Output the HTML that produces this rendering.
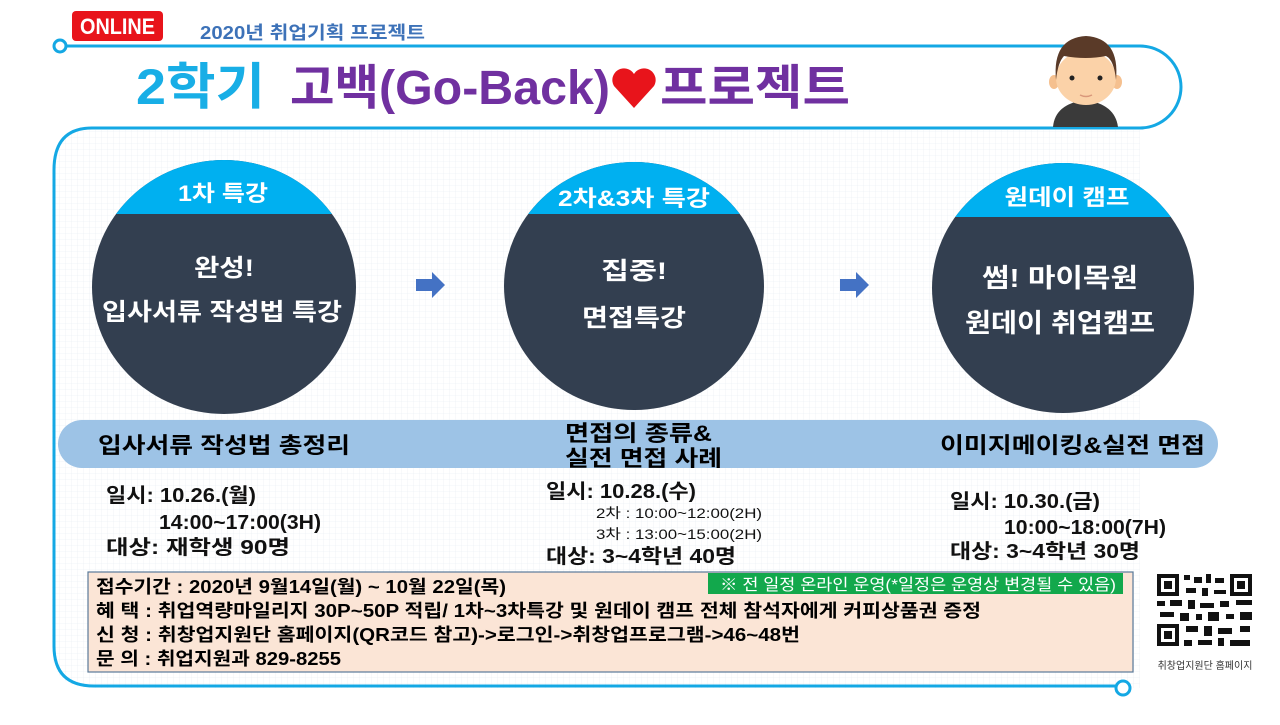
<!DOCTYPE html>
<html><head><meta charset="utf-8"><style>
body{margin:0;width:1280px;height:720px;overflow:hidden;background:#fff;font-family:"Liberation Sans","Noto Sans CJK KR",sans-serif;}
svg text{font-family:"Liberation Sans","Noto Sans CJK KR",sans-serif;}
</style></head><body>
<svg width="1280" height="720" viewBox="0 0 1280 720">
<defs>
<pattern id="g" width="6" height="6" patternUnits="userSpaceOnUse"><path d="M6 0V6H0" fill="none" stroke="#e6ebf2" stroke-width="0.6"/></pattern>
<clipPath id="c1"><ellipse cx="224" cy="287" rx="132" ry="127"/></clipPath>
<clipPath id="c2"><ellipse cx="634" cy="286" rx="130" ry="124"/></clipPath>
<clipPath id="c3"><ellipse cx="1063" cy="288" rx="131" ry="125"/></clipPath>
</defs>
<path d="M52 170 Q52 130 92 130 H1140 V688 H92 Q52 688 52 648Z" fill="url(#g)"/>
<path d="M66 46 H1140 A41 41 0 0 1 1140 128 H92 Q54 128 54 170 V646 Q54 686 94 686 H1116" fill="none" stroke="#14a8e4" stroke-width="3"/>
<circle cx="60" cy="46" r="6" fill="#fff" stroke="#14a8e4" stroke-width="3"/>
<circle cx="1123" cy="688" r="7" fill="#fff" stroke="#14a8e4" stroke-width="3"/>
<rect x="72" y="11" width="91" height="30" rx="4" fill="#e8141b"/>
<text x="80" y="34" font-size="22" font-weight="bold" fill="#fff" textLength="75" lengthAdjust="spacingAndGlyphs">ONLINE</text>
<text x="200" y="39" font-size="18" font-weight="bold" fill="#3d72b8" textLength="225" lengthAdjust="spacingAndGlyphs">2020년 취업기획 프로젝트</text>
<text x="136" y="104" font-size="50" font-weight="bold" fill="#18aee6" textLength="129" lengthAdjust="spacingAndGlyphs">2학기</text>
<text x="290" y="104" font-size="48" font-weight="bold" fill="#7030a0" textLength="320" lengthAdjust="spacingAndGlyphs">고백(Go-Back)</text>
<path d="M634 108 L614 86 A11 11 0 0 1 634 74 A11 11 0 0 1 654 86Z" fill="#e8141b"/>
<text x="660" y="104" font-size="48" font-weight="bold" fill="#7030a0" textLength="190" lengthAdjust="spacingAndGlyphs">프로젝트</text>
<g>
<path d="M1053 127 Q1055 104 1085 100 Q1115 104 1118 127Z" fill="#3a3a3a"/>
<rect x="1078" y="90" width="14" height="14" fill="#f5c08f"/>
<ellipse cx="1054" cy="82" rx="5" ry="7" fill="#f5c08f"/><ellipse cx="1117" cy="82" rx="5" ry="7" fill="#f5c08f"/>
<ellipse cx="1086" cy="78" rx="30" ry="27" fill="#fbd2a8"/>
<path d="M1056 80 Q1052 38 1086 36 Q1120 38 1116 80 Q1114 60 1106 56 Q1086 60 1064 56 Q1058 62 1056 80Z" fill="#5a3a28"/>
<circle cx="1072" cy="78" r="2.5" fill="#222"/><circle cx="1100" cy="78" r="2.5" fill="#222"/>
<path d="M1080 95 Q1086 98 1092 95" stroke="#d9977a" fill="none" stroke-width="1.5"/>
</g>
<g clip-path="url(#c1)"><rect x="80" y="150" width="300" height="280" fill="#333f50"/><rect x="80" y="150" width="300" height="64" fill="#00b0f0"/></g>
<g clip-path="url(#c2)"><rect x="500" y="150" width="300" height="280" fill="#333f50"/><rect x="500" y="150" width="300" height="64" fill="#00b0f0"/></g>
<g clip-path="url(#c3)"><rect x="920" y="150" width="300" height="280" fill="#333f50"/><rect x="920" y="150" width="300" height="67" fill="#00b0f0"/></g>
<g font-weight="bold" fill="#fff" text-anchor="middle">
<text x="223" y="201" font-size="22" textLength="90" lengthAdjust="spacingAndGlyphs">1차 특강</text>
<text x="634" y="206" font-size="22" textLength="152" lengthAdjust="spacingAndGlyphs">2차&amp;3차 특강</text>
<text x="1067" y="205" font-size="22" textLength="125" lengthAdjust="spacingAndGlyphs">원데이 캠프</text>
<text x="224" y="276" font-size="24" textLength="60" lengthAdjust="spacingAndGlyphs">완성!</text>
<text x="222" y="320" font-size="24" textLength="240" lengthAdjust="spacingAndGlyphs">입사서류 작성법 특강</text>
<text x="634" y="279" font-size="24" textLength="66" lengthAdjust="spacingAndGlyphs">집중!</text>
<text x="634" y="326" font-size="24" textLength="104" lengthAdjust="spacingAndGlyphs">면접특강</text>
<text x="1060" y="287" font-size="26" textLength="156" lengthAdjust="spacingAndGlyphs">썸! 마이목원</text>
<text x="1060" y="332" font-size="26" textLength="190" lengthAdjust="spacingAndGlyphs">원데이 취업캠프</text>
</g>
<path d="M416 279 H432 V272 L445 285 L432 298 V291 H416Z" fill="#4472c4"/>
<path d="M840 279 H856 V272 L869 285 L856 298 V291 H840Z" fill="#4472c4"/>
<rect x="58" y="420" width="1160" height="48" rx="24" fill="#9dc3e6"/>
<g font-weight="bold" fill="#000" font-size="22">
<text x="98" y="453" textLength="252" lengthAdjust="spacingAndGlyphs">입사서류 작성법 총정리</text>
<text x="565" y="441" textLength="147" lengthAdjust="spacingAndGlyphs">면접의 종류&amp;</text>
<text x="565" y="466" textLength="157" lengthAdjust="spacingAndGlyphs">실전 면접 사례</text>
<text x="940" y="453" textLength="265" lengthAdjust="spacingAndGlyphs">이미지메이킹&amp;실전 면접</text>
</g>
<g font-weight="bold" fill="#111" font-size="20">
<text x="106" y="502" textLength="150" lengthAdjust="spacingAndGlyphs">일시: 10.26.(월)</text>
<text x="159" y="529" textLength="162" lengthAdjust="spacingAndGlyphs">14:00~17:00(3H)</text>
<text x="106" y="554" textLength="184" lengthAdjust="spacingAndGlyphs">대상: 재학생 90명</text>
<text x="546" y="498" textLength="150" lengthAdjust="spacingAndGlyphs">일시: 10.28.(수)</text>
<text x="546" y="563" textLength="190" lengthAdjust="spacingAndGlyphs">대상: 3~4학년 40명</text>
<text x="950" y="508" textLength="150" lengthAdjust="spacingAndGlyphs">일시: 10.30.(금)</text>
<text x="1004" y="534" textLength="162" lengthAdjust="spacingAndGlyphs">10:00~18:00(7H)</text>
<text x="950" y="558" textLength="190" lengthAdjust="spacingAndGlyphs">대상: 3~4학년 30명</text>
</g>
<text x="596" y="518" font-size="14" fill="#111" textLength="166" lengthAdjust="spacingAndGlyphs">2차 : 10:00~12:00(2H)</text>
<text x="596" y="539" font-size="14" fill="#111" textLength="166" lengthAdjust="spacingAndGlyphs">3차 : 13:00~15:00(2H)</text>
<rect x="88" y="572" width="1045" height="100" fill="#fbe5d6" stroke="#5b7a99" stroke-width="1.2"/>
<rect x="708" y="573" width="415" height="21" fill="#12a84c"/>
<text x="720" y="590" font-size="16" fill="#fff" textLength="396" lengthAdjust="spacingAndGlyphs">※ 전 일정 온라인 운영(*일정은 운영상 변경될 수 있음)</text>
<g font-size="18" fill="#000" font-weight="bold">
<text x="96" y="593" textLength="410" lengthAdjust="spacingAndGlyphs">접수기간 : 2020년 9월14일(월) ~ 10월 22일(목)</text>
<text x="96" y="617" textLength="885" lengthAdjust="spacingAndGlyphs">혜 택 : 취업역량마일리지 30P~50P 적립/ 1차~3차특강 및 원데이 캠프 전체 참석자에게 커피상품권 증정</text>
<text x="96" y="641" textLength="704" lengthAdjust="spacingAndGlyphs">신 청 : 취창업지원단 홈페이지(QR코드 참고)-&gt;로그인-&gt;취창업프로그램-&gt;46~48번</text>
<text x="96" y="665" textLength="245" lengthAdjust="spacingAndGlyphs">문 의 : 취업지원과 829-8255</text>
</g>
<rect x="1152" y="570" width="106" height="108" fill="#fff"/>
<g fill="#111">
<rect x="1157" y="574" width="22" height="22"/><rect x="1161" y="578" width="14" height="14" fill="#fff"/><rect x="1164" y="581" width="8" height="8"/>
<rect x="1230" y="574" width="22" height="22"/><rect x="1234" y="578" width="14" height="14" fill="#fff"/><rect x="1237" y="581" width="8" height="8"/>
<rect x="1157" y="624" width="22" height="22"/><rect x="1161" y="628" width="14" height="14" fill="#fff"/><rect x="1164" y="631" width="8" height="8"/>
<rect x="1184" y="575" width="6" height="5"/><rect x="1194" y="577" width="8" height="6"/><rect x="1206" y="574" width="5" height="9"/><rect x="1215" y="578" width="9" height="5"/>
<rect x="1186" y="588" width="10" height="5"/><rect x="1202" y="588" width="6" height="8"/><rect x="1214" y="590" width="12" height="4"/>
<rect x="1157" y="601" width="8" height="5"/><rect x="1170" y="600" width="12" height="6"/><rect x="1188" y="600" width="7" height="9"/><rect x="1200" y="603" width="14" height="5"/><rect x="1220" y="601" width="9" height="6"/><rect x="1236" y="600" width="16" height="5"/>
<rect x="1160" y="612" width="14" height="5"/><rect x="1180" y="613" width="9" height="8"/><rect x="1196" y="614" width="6" height="6"/><rect x="1208" y="612" width="11" height="9"/><rect x="1226" y="614" width="8" height="5"/><rect x="1240" y="612" width="12" height="8"/>
<rect x="1186" y="626" width="12" height="6"/><rect x="1204" y="626" width="8" height="10"/><rect x="1218" y="628" width="14" height="6"/><rect x="1240" y="626" width="10" height="6"/>
<rect x="1184" y="640" width="8" height="6"/><rect x="1198" y="640" width="14" height="5"/><rect x="1218" y="638" width="6" height="8"/><rect x="1230" y="640" width="20" height="6"/>
</g>
<text x="1205" y="669" font-size="10" fill="#333" text-anchor="middle">취창업지원단 홈페이지</text>
</svg>
</body></html>
